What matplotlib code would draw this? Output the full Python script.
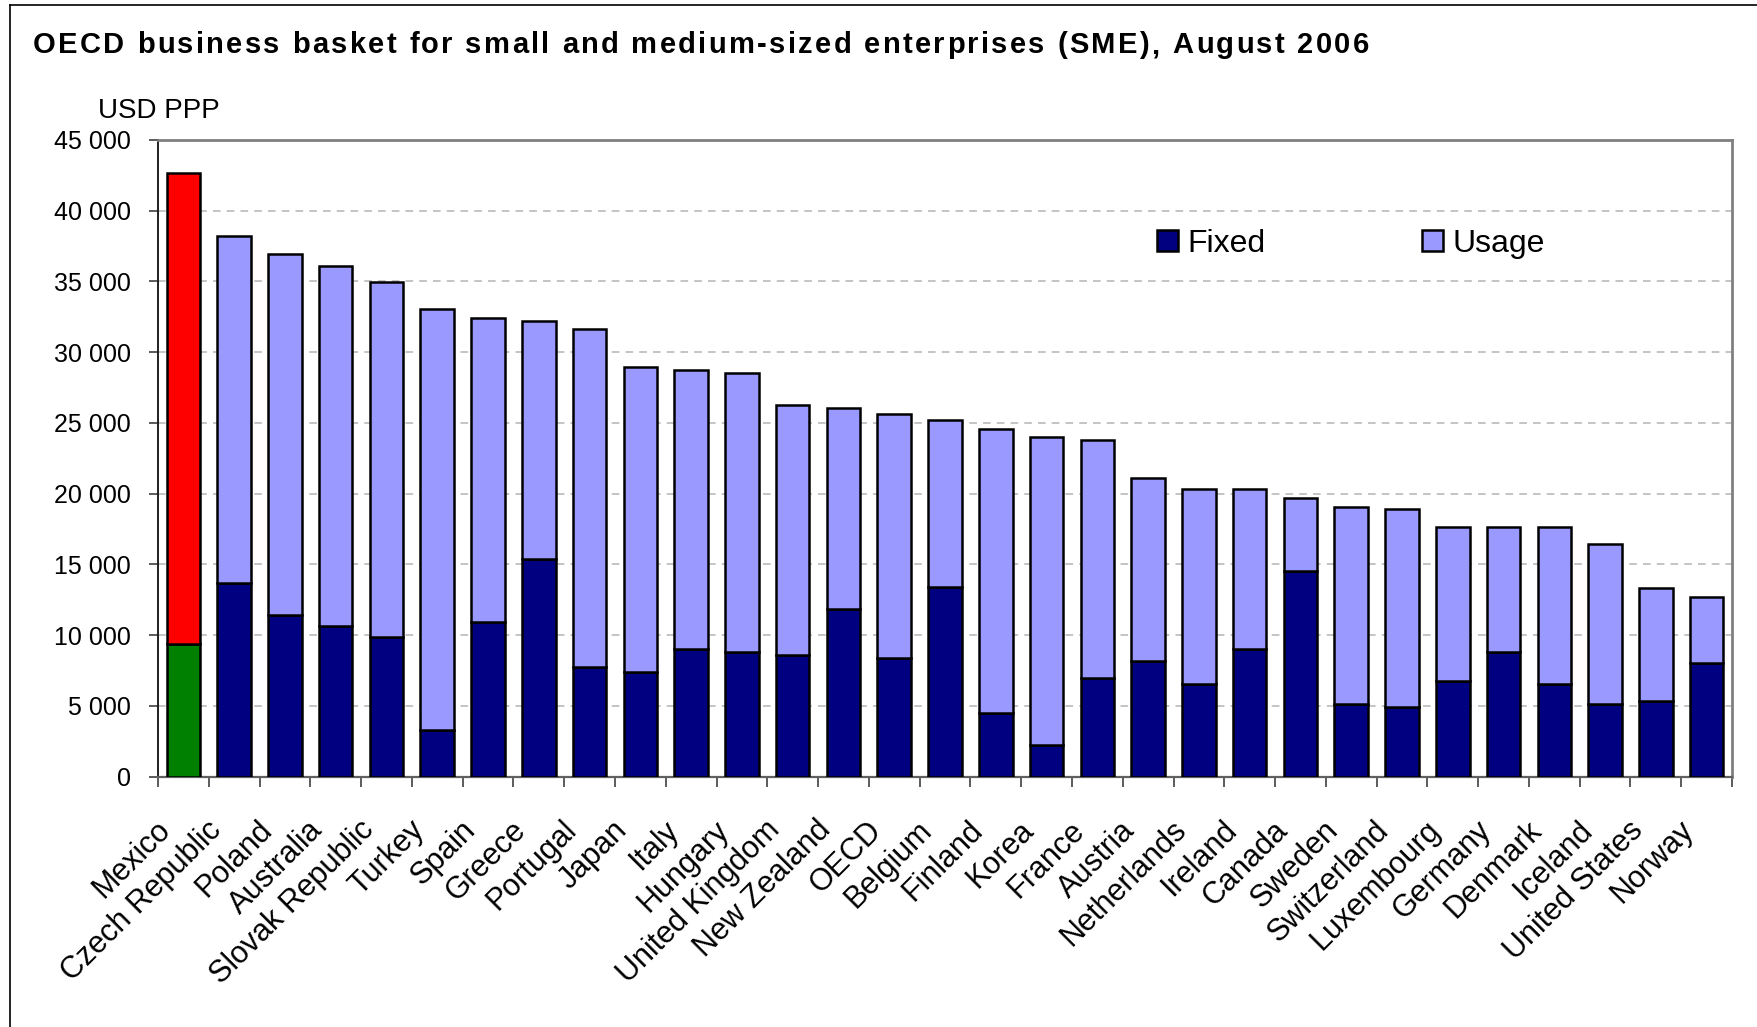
import matplotlib.pyplot as plt
import numpy as np
from matplotlib.ticker import FuncFormatter, MultipleLocator
from matplotlib.patches import Patch
from matplotlib.lines import Line2D
from matplotlib.transforms import ScaledTranslation
from matplotlib.font_manager import FontProperties, findfont, get_font

plt.rcParams['font.family'] = ['Liberation Sans', 'DejaVu Sans']

countries = ['Mexico', 'Czech Republic', 'Poland', 'Australia', 'Slovak Republic',
             'Turkey', 'Spain', 'Greece', 'Portugal', 'Japan', 'Italy', 'Hungary',
             'United Kingdom', 'New Zealand', 'OECD', 'Belgium', 'Finland', 'Korea',
             'France', 'Austria', 'Netherlands', 'Ireland', 'Canada', 'Sweden',
             'Switzerland', 'Luxembourg', 'Germany', 'Denmark', 'Iceland',
             'United States', 'Norway']

# USD PPP per year
fixed = [9350, 13700, 11450, 10640, 9850, 3260, 10900, 15380, 7770, 7370, 9000,
         8770, 8600, 11870, 8400, 13370, 4480, 2260, 6940, 8160, 6530, 9000,
         14550, 5140, 4900, 6770, 8800, 6530, 5140, 5350, 8010]
usage = [33350, 24480, 25480, 25480, 25080, 29770, 21520, 16800, 23860, 21560,
         19720, 19760, 17640, 14170, 17230, 11850, 20120, 21740, 16840, 12940,
         13770, 11300, 5130, 13930, 13980, 10870, 8840, 11110, 11280, 7970, 4690]

title = 'OECD business basket for small and medium-sized enterprises (SME), August 2006'

NAVY = '#000080'
LAVENDER = '#9999FF'
# Mexico gets its own colours
fixed_colors = ['#008000'] + [NAVY] * (len(countries) - 1)
usage_colors = ['#FF0000'] + [LAVENDER] * (len(countries) - 1)

W, H, DPI = 1757, 1027, 100
fig = plt.figure(figsize=(W / DPI, H / DPI), dpi=DPI)
ax = fig.add_axes([0.0899, 0.2439, 0.8959, 0.6198])

x = np.arange(len(countries))
w = 0.66
ax.bar(x, fixed, w, color=fixed_colors, edgecolor='black', linewidth=1.8, zorder=3)
ax.bar(x, usage, w, bottom=fixed, color=usage_colors, edgecolor='black',
       linewidth=1.8, zorder=3)

ax.set_xlim(-0.5, len(countries) - 0.5)
ax.set_ylim(0, 45000)
ax.yaxis.set_major_locator(MultipleLocator(5000))
ax.yaxis.set_major_formatter(FuncFormatter(lambda v, p: f'{int(v):,}'.replace(',', ' ')))
ax.grid(axis='y', color='#B4B4B4', linestyle=(0, (5, 4)), linewidth=1.1, zorder=0)

ax.set_xticks(x)
ax.set_xticklabels(countries, rotation=45, ha='right', va='top',
                   rotation_mode='anchor', fontsize=22)
ax.tick_params(axis='x', which='major', length=0, pad=22)
shift = ScaledTranslation(-28 / DPI, -8 / DPI, fig.dpi_scale_trans)
for lab in ax.get_xticklabels():
    lab.set_transform(lab.get_transform() + shift)
ax.set_xticks(np.arange(-0.5, len(countries), 1), minor=True)
ax.tick_params(axis='x', which='minor', length=7, width=1.2, direction='out',
               color='#404040')
ax.tick_params(axis='y', length=6.5, width=1.2, pad=13, labelsize=18,
               color='#404040')

for side in ['top', 'right']:
    ax.spines[side].set_color('#808080')
    ax.spines[side].set_linewidth(2)
ax.spines['left'].set_color('#202020')
ax.spines['left'].set_linewidth(1.4)
ax.spines['bottom'].set_color('#606060')
ax.spines['bottom'].set_linewidth(1.6)

handles = [Patch(facecolor=NAVY, edgecolor='black', linewidth=1.8),
           Patch(facecolor=LAVENDER, edgecolor='black', linewidth=1.8)]
fig.legend(handles, ['Fixed', 'Usage'], loc='center left',
           bbox_to_anchor=(1157 / W, 1 - 244 / H), ncol=2, frameon=False,
           fontsize=23, handlelength=0.65, handleheight=0.65, handletextpad=0.3,
           columnspacing=4.9, borderpad=0, borderaxespad=0)

# title drawn glyph by glyph with extra letter spacing
fp = FontProperties(family='Liberation Sans', weight='bold', size=21)
ft = get_font(findfont(fp))
ft.set_size(21, DPI)
adv = [ft.load_char(ord(c)).linearHoriAdvance / 65536 for c in title]
title_left, title_right = 33, 1369
track = (title_right - title_left - sum(adv)) / (len(title) - 1)
pos = title_left
for c, a in zip(title, adv):
    fig.text(pos / W, 1 - 53 / H, c, fontproperties=fp, ha='left', va='baseline')
    pos += a + track

fig.text(98 / W, 1 - 111 / H, 'USD PPP', fontsize=20, ha='left', va='center')

# outer frame (top and left edges)
fig.add_artist(Line2D([10 / W, 10 / W], [0, 1 - 5 / H], color='black', linewidth=1.2))
fig.add_artist(Line2D([10 / W, 1], [1 - 5 / H, 1 - 5 / H], color='black', linewidth=1.2))

fig.savefig('out.png', dpi=DPI)
